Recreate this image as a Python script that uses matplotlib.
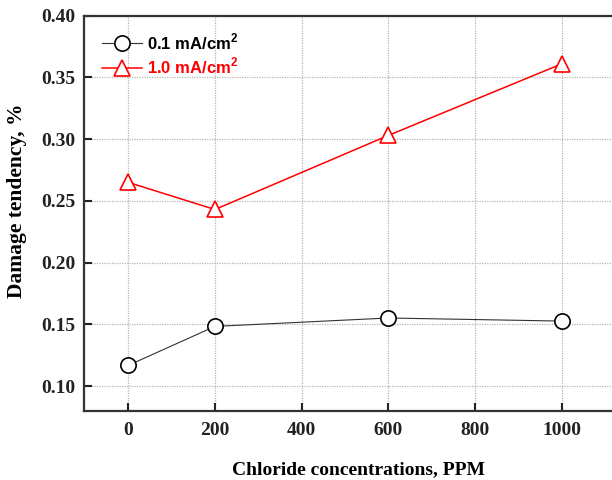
import matplotlib
matplotlib.use("Agg")
from matplotlib import pyplot as plt

# chloride concentration (ppm) and damage tendency (%)
chloride = [0, 200, 600, 1000]
low_current = [0.1167, 0.1483, 0.1551, 0.1526]   # 0.1 mA/cm2
high_current = [0.2650, 0.2430, 0.3030, 0.3610]  # 1.0 mA/cm2
series_labels = ["0.1 mA/cm$^\\mathregular{2}$", "1.0 mA/cm$^\\mathregular{2}$"]

xticks = [0, 200, 400, 600, 800, 1000]
yticks = [0.10, 0.15, 0.20, 0.25, 0.30, 0.35, 0.40]

serif = "Liberation Serif"
sans = "Liberation Sans"

fig = plt.figure(figsize=(6.12, 4.8), dpi=100)
# right spine sits outside the picture in the original, so the axes run past the edge
ax = fig.add_axes([84 / 612, 1 - 410.7 / 480, (632 - 84) / 612, (410.7 - 15.7) / 480])

ax.plot(chloride, low_current, color="#333333", lw=0.8, marker="o", ms=11,
        mfc="white", mec="black", mew=1.2, label=series_labels[0], zorder=3)
ax.plot(chloride, high_current, color="red", lw=1.1, marker="^", ms=12,
        mfc="white", mec="red", mew=1.2, label=series_labels[1], zorder=3)

ax.set_xlim(-102, 1162)
ax.set_ylim(0.08, 0.40)
ax.set_xticks(xticks)
ax.set_yticks(yticks)
ax.set_yticklabels([f"{v:.2f}" for v in yticks])
ax.grid(True, color="#b5b5b5", linestyle=(0, (1, 1)), lw=0.9)
ax.set_axisbelow(True)

ax.tick_params(direction="in", length=6, width=1.5, colors="#222222")
ax.tick_params(axis="y", pad=6)
ax.tick_params(axis="x", pad=8)
for lab in ax.get_xticklabels() + ax.get_yticklabels():
    lab.set_fontfamily(serif)
    lab.set_fontweight("bold")
    lab.set_fontsize(14)
for sp in ax.spines.values():
    sp.set_linewidth(1.6)
    sp.set_color("#333333")

ax.set_xlabel("Chloride concentrations, PPM", fontfamily=serif, fontweight="bold",
              fontsize=14, labelpad=16)
fig.text(17 / 612, 1 - 201 / 480, "Damage tendency, %", rotation=90, ha="center",
         va="center", fontfamily=serif, fontweight="bold", fontsize=15.5)

leg = ax.legend(loc="upper left", bbox_to_anchor=(0.005, 0.998), frameon=False,
                prop={"family": sans, "weight": "bold", "size": 12},
                handlelength=2.4, handletextpad=0.3, labelspacing=0.25)
for txt, c in zip(leg.get_texts(), ["black", "red"]):
    txt.set_color(c)

fig.savefig("out.png", dpi=100)
